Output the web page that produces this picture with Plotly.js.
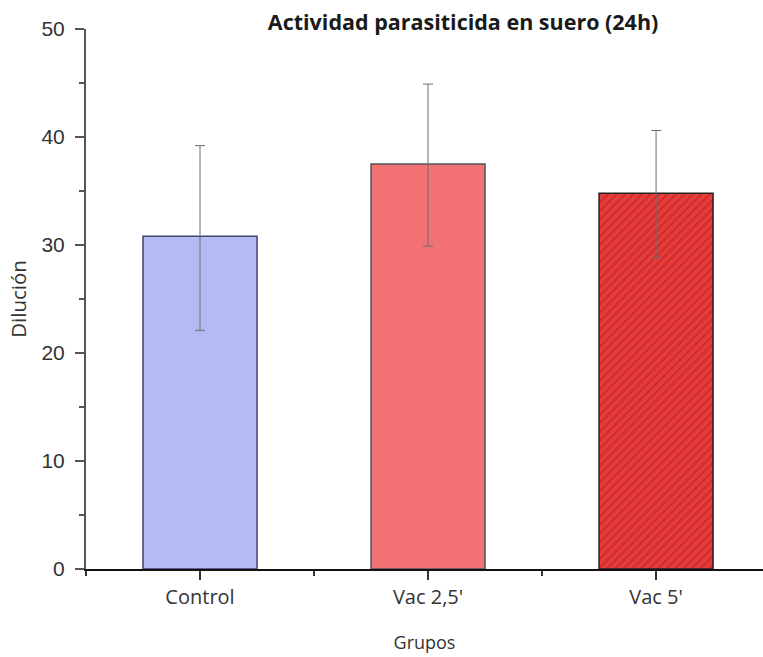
<!DOCTYPE html>
<html>
<head>
<meta charset="utf-8">
<script src="https://cdn.plot.ly/plotly-3.0.1.min.js"></script>
<style>html,body{margin:0;padding:0;background:#fff;}#chart{width:763px;height:657px;}</style>
</head>
<body>
<div id="chart"></div>
<script>
// Data
const categories = ["Control", "Vac 2,5'", "Vac 5'"];
const means = [30.8, 37.5, 34.8];
const errPlus = [8.4, 7.4, 5.8];
const errMinus = [8.7, 7.6, 6.0];
const yTickVals = [0, 10, 20, 30, 40, 50];

const xIdx = categories.map((c, i) => i);

// Styles (one per bar)
const fillColors = ["#b4bbf2", "#f27173", "#e83c3c"];
const lineColors = ["#3e4370", "#555555", "#222222"];
const hatch = ["", "", "/"];

const traces = categories.map((cat, i) => {
  const marker = {
    color: fillColors[i],
    line: { color: lineColors[i], width: 1.5 }
  };
  if (hatch[i]) {
    marker.pattern = {
      shape: hatch[i],
      fgcolor: "#b51f1f",
      fgopacity: 0.55,
      size: 6,
      solidity: 0.35,
      fillmode: "overlay"
    };
  }
  return {
    type: "bar",
    name: cat,
    x: [xIdx[i]],
    y: [means[i]],
    width: 0.5,
    marker: marker,
    error_y: {
      type: "data",
      symmetric: false,
      array: [errPlus[i]],
      arrayminus: [errMinus[i]],
      color: "#6e6e6e",
      thickness: 1,
      width: 5
    }
  };
});

const sans = "'Open Sans', 'Noto Sans', sans-serif";

const layout = {
  width: 763,
  height: 657,
  margin: { l: 86, r: 0, t: 29, b: 88 },
  paper_bgcolor: "#ffffff",
  plot_bgcolor: "#ffffff",
  showlegend: false,
  barmode: "overlay",
  title: {
    text: "Actividad parasiticida en suero (24h)",
    font: { family: sans, size: 21.5, color: "#1a1a1a", weight: "bold" },
    xref: "paper",
    x: 0.557,
    xanchor: "center",
    yref: "container",
    y: 0.966,
    yanchor: "middle"
  },
  xaxis: {
    range: [-0.5, 2.469],
    tickmode: "array",
    tickvals: xIdx,
    ticktext: categories,
    ticks: "outside",
    ticklen: 9,
    tickwidth: 2,
    tickcolor: "#333333",
    minor: { tickmode: "linear", tick0: 0.5, dtick: 1, ticks: "outside", ticklen: 5, tickwidth: 2, tickcolor: "#333333" },
    showline: true,
    linecolor: "#111111",
    linewidth: 2,
    showgrid: false,
    zeroline: false,
    tickfont: { family: sans, size: 20, color: "#333333" },
    title: {
      text: "Grupos",
      font: { family: sans, size: 18, color: "#333333" },
      standoff: 27
    },
    fixedrange: true
  },
  yaxis: {
    range: [0, 50],
    tickmode: "array",
    tickvals: yTickVals,
    ticks: "outside",
    ticklen: 9,
    tickwidth: 2,
    tickcolor: "#555555",
    ticklabelstandoff: 6,
    minor: { tickmode: "linear", tick0: 5, dtick: 10, ticks: "outside", ticklen: 5, tickwidth: 2, tickcolor: "#555555" },
    showline: true,
    linecolor: "#555555",
    linewidth: 2,
    showgrid: false,
    zeroline: false,
    tickfont: { family: "'Liberation Sans', Arial, sans-serif", size: 21, color: "#333333" },
    title: {
      text: "Dilución",
      font: { family: sans, size: 20.5, color: "#333333" },
      standoff: 9
    },
    fixedrange: true
  }
};

Plotly.newPlot("chart", traces, layout, { displayModeBar: false, staticPlot: true });
</script>
</body>
</html>
